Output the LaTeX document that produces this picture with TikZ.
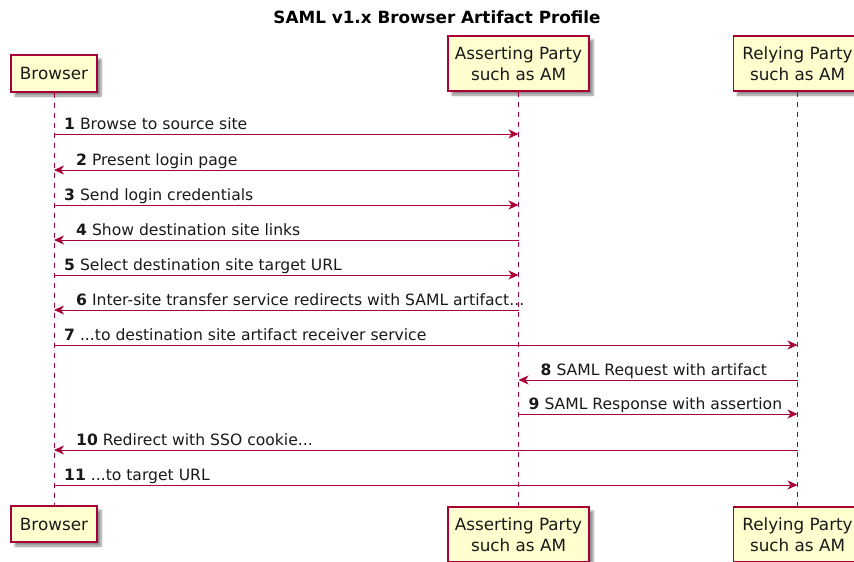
\documentclass[tikz,border=0pt]{standalone}
\usepackage{fontspec}
\setmainfont{DejaVu Sans}
\usetikzlibrary{arrows.meta,shadows.blur}
\definecolor{pu}{HTML}{A80036}
\definecolor{pufill}{HTML}{FEFECE}
\begin{document}
\begin{tikzpicture}[x=1pt,y=-1pt,
  part/.style={draw=pu, fill=pufill, line width=1.3pt, align=center, inner sep=0pt,
    font=\fontsize{16.8}{20.5}\selectfont, text=black!90,
    blur shadow={shadow xshift=4pt, shadow yshift=-4pt, shadow blur steps=6, shadow opacity=45}},
  life/.style={draw=pu, line width=0.8pt, dash pattern=on 5pt off 5pt},
  msg/.style={draw=pu, line width=0.9pt, -{Stealth[length=10pt,width=9pt,inset=3pt]}},
  lbl/.style={anchor=base west, inner sep=0pt, font=\fontsize{15.6}{18}\selectfont, text=black!90},
  ttl/.style={inner sep=0pt, font=\fontsize{16.8}{19}\selectfont\bfseries, text=black}]
\useasboundingbox (0,0) rectangle (854,562);
\node[ttl] (title) at (437,17) {SAML v1.x Browser Artifact Profile};
% top participants
\node[part, minimum width=86pt, minimum height=37pt] (B) at (54,73.5) {Browser};
\node[part, minimum width=141pt, minimum height=55pt] (A) at (518.5,63.5) {Asserting Party\\such as AM};
\node[part, minimum width=128pt, minimum height=55pt] (R) at (797.5,63.5) {Relying Party\\such as AM};
% bottom participants
\node[part, minimum width=86pt, minimum height=36pt] (Bb) at (54,524) {Browser};
\node[part, minimum width=141pt, minimum height=55pt] (Ab) at (518.5,534.5) {Asserting Party\\such as AM};
\node[part, minimum width=128pt, minimum height=55pt] (Rb) at (797.5,534.5) {Relying Party\\such as AM};
% lifelines
\draw[life] (B.south) -- (Bb.north);
\draw[life] (A.south) -- (Ab.north);
\draw[life] (R.south) -- (Rb.north);
% messages
\foreach \i/\y/\s/\t/\dir/\txt in {
  1/134/B/A/r/{Browse to source site},
  2/170/A/B/l/{Present login page},
  3/205/B/A/r/{Send login credentials},
  4/240/A/B/l/{Show destination site links},
  5/275/B/A/r/{Select destination site target URL},
  6/310/A/B/l/{Inter-site transfer service redirects with SAML artifact...},
  7/345/B/R/r/{...to destination site artifact receiver service},
  8/380/R/A/l/{SAML Request with artifact},
  9/414/A/R/r/{SAML Response with assertion},
  10/450/R/B/l/{Redirect with SSO cookie...},
  11/485/B/R/r/{...to target URL}}{
  \coordinate (m\i) at (0,\y);
  \coordinate (s\i) at (\s.south |- m\i);
  \coordinate (t\i) at (\t.south |- m\i);
  \draw[msg] (s\i) -- (t\i);
  \if\dir r
    \node[lbl] (l\i) at ([xshift=10pt,yshift=5pt]s\i) {\textbf{\i} \txt};
  \else
    \node[lbl] (l\i) at ([xshift=22pt,yshift=5pt]t\i) {\textbf{\i} \txt};
  \fi
}
\end{tikzpicture}
\end{document}
